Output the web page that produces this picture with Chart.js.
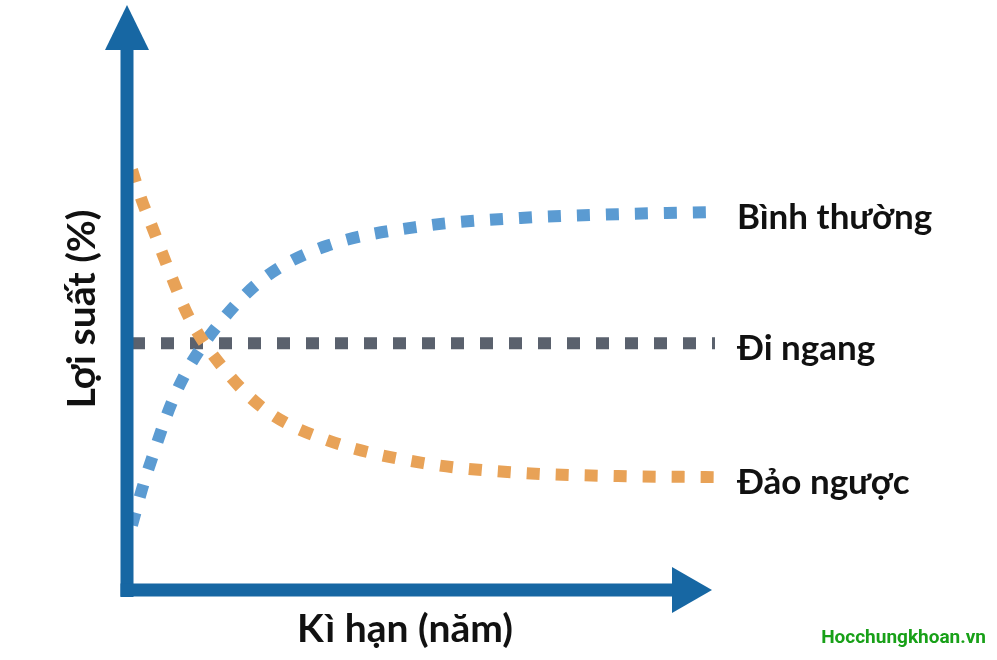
<!DOCTYPE html>
<html>
<head>
<meta charset="utf-8">
<script src="https://cdn.jsdelivr.net/npm/chart.js@4"></script>
<style>
  html, body { margin: 0; padding: 0; background: #ffffff; }
  #wrap { width: 997px; height: 660px; }
</style>
</head>
<body>
<div id="wrap"><canvas id="yieldChart" width="997" height="660"></canvas></div>
<script>
// kì hạn (năm) — x positions
const terms = [0, 0.5, 1, 2, 3, 5, 7, 10, 15, 20, 25, 30];

// lợi suất (%)
const normalYield   = [12.0, 18.5, 24.1, 34.3, 41.7, 51.5, 58.3, 63.7, 67.4, 68.9, 69.6, 70.0];
const flatYield     = [45.7, 45.7, 45.7, 45.7, 45.7, 45.7, 45.7, 45.7, 45.7, 45.7, 45.7, 45.7];
const invertedYield = [77.8, 72.2, 67.6, 58.3, 50.0, 39.8, 33.0, 27.8, 23.5, 21.7, 21.1, 20.9];

const seriesNames = ['Bình thường', 'Đi ngang', 'Đảo ngược'];
const xTitle = 'Kì hạn (năm)';
const yTitle = 'Lợi suất (%)';
const watermark = 'Hocchungkhoan.vn';

const axisColor = '#1767a3';
const colors = {
  normal: '#5b9bd2',
  flat: '#5a616d',
  inverted: '#e8a257'
};

function pts(vals) {
  return terms.map((t, i) => ({ x: t, y: vals[i] }));
}

function dotted(label, vals, color) {
  return {
    label: label,
    data: pts(vals),
    borderColor: color,
    borderWidth: 12,
    borderDash: [13, 16],
    borderCapStyle: 'butt',
    pointRadius: 0,
    fill: false,
    cubicInterpolationMode: 'monotone'
  };
}

// ──────────── trục có mũi tên + chữ ────────────
const decor = {
  id: 'decor',
  beforeDraw(chart) {
    const c = chart.ctx;
    c.save();
    c.fillStyle = '#ffffff';
    c.fillRect(0, 0, chart.width, chart.height);
    c.restore();
  },
  afterDatasetsDraw(chart) {
    const c = chart.ctx;
    const a = chart.chartArea;
    const ax = a.left - 5;      // trục tung
    const ay = a.bottom;        // trục hoành
    c.save();
    c.fillStyle = axisColor;
    // trục tung
    c.fillRect(ax - 6.5, 46, 13, ay + 7 - 46);
    c.beginPath();
    c.moveTo(ax, 5);
    c.lineTo(ax + 22, 50);
    c.lineTo(ax - 22, 50);
    c.closePath();
    c.fill();
    // trục hoành
    c.fillRect(ax - 6.5, ay - 6.5, 676 - (ax - 6.5), 13);
    c.beginPath();
    c.moveTo(712, ay);
    c.lineTo(672, ay - 23);
    c.lineTo(672, ay + 23);
    c.closePath();
    c.fill();

    // tên đường cong
    c.fillStyle = '#111111';
    c.font = 'bold 35px Lato';
    c.textBaseline = 'alphabetic';
    c.textAlign = 'left';
    const order = [1, 2, 0]; // dataset index for each name
    seriesNames.forEach((name, i) => {
      const meta = chart.getDatasetMeta(order[i]);
      const last = meta.data[meta.data.length - 1];
      c.fillText(name, a.right + 22, last.y + 17);
    });

    // tiêu đề trục
    c.font = 'bold 39px Lato';
    c.textAlign = 'center';
    c.fillText(xTitle, 405, 642);
    c.save();
    c.translate(95, 309);
    c.rotate(-Math.PI / 2);
    c.fillText(yTitle, 0, 0);
    c.restore();

    // watermark
    c.fillStyle = '#18a018';
    c.font = 'bold 19px "Liberation Sans Narrow", Roboto';
    c.textAlign = 'right';
    c.fillText(watermark, 986, 643);
    c.restore();
  }
};

new Chart(document.getElementById('yieldChart'), {
  type: 'line',
  data: {
    datasets: [
      dotted(seriesNames[2], invertedYield, colors.inverted),
      dotted(seriesNames[0], normalYield, colors.normal),
      dotted(seriesNames[1], flatYield, colors.flat)
    ]
  },
  options: {
    responsive: false,
    animation: false,
    layout: { padding: { left: 132, right: 282, top: 50, bottom: 70 } },
    scales: {
      x: { type: 'linear', min: 0, max: 30, display: false },
      y: { min: 0, max: 100, display: false }
    },
    plugins: {
      legend: { display: false },
      tooltip: { enabled: false }
    }
  },
  plugins: [decor]
});
</script>
</body>
</html>
